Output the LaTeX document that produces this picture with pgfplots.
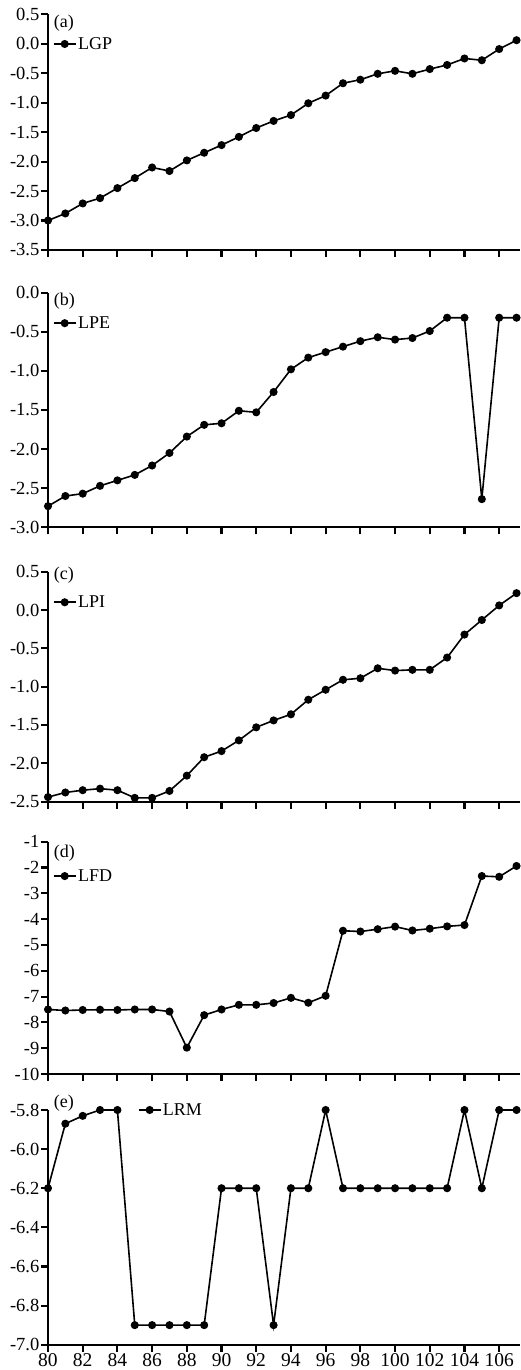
\documentclass[border=0pt]{standalone}
\usepackage{pgfplots}
\pgfplotsset{compat=1.18}
\usepackage{fontspec}
\setmainfont{Liberation Serif}

\pgfplotsset{
  panel/.style={
    scale only axis, width=472pt,
    xmin=80, xmax=107.2,
    axis x line=bottom, axis y line=left,
    axis line style={-, line width=2.1pt},
    tick align=outside, major tick length=7pt,
    every tick/.style={black, line width=2.1pt},
    xtick={80,82,...,106},
    xticklabels={},
    tick label style={font=\fontsize{18.5}{20}\selectfont},
    yticklabel style={inner sep=1.5pt, /pgf/number format/.cd, fixed, fixed zerofill, precision=1, assume math mode=true},
    xticklabel style={inner sep=2pt, font=\fontsize{19.5}{21}\selectfont, /pgf/number format/assume math mode=true},
    clip=false,
    legend style={draw=none, fill=none, inner sep=0pt, anchor=west,
      font=\fontsize{18}{20}\selectfont, nodes={inner sep=1.5pt}},
    legend image code/.code={\draw[mark repeat=2,mark phase=2] plot coordinates {(0pt,0pt) (11pt,0pt) (22pt,0pt)};},
  },
  ser/.style={black, line width=1.6pt, mark=*, mark size=3.2pt, mark options={solid, fill=black}},
}
\newcommand{\plabel}[2]{\node[anchor=west, inner sep=0pt, font=\fontsize{18}{20}\selectfont] at (rel axis cs:0.012,#1) {#2};}

\begin{document}
\begin{tikzpicture}
\path[use as bounding box] (0pt,0pt) rectangle (521pt,1370pt);

% (a) LGP
\begin{axis}[panel, at={(48pt,1120pt)}, anchor=south west, height=235.7pt,
  ymin=-3.5, ymax=0.5, ytick={-3.5,-3,-2.5,-2,-1.5,-1,-0.5,0,0.5},
  legend style={at={(rel axis cs:0.01,0.874)}}]
\addplot[ser] coordinates {
(80,-3.00) (81,-2.88) (82,-2.71) (83,-2.62) (84,-2.45) (85,-2.28) (86,-2.10)
(87,-2.16) (88,-1.98) (89,-1.85) (90,-1.72) (91,-1.58) (92,-1.43) (93,-1.31)
(94,-1.21) (95,-1.01) (96,-0.88) (97,-0.67) (98,-0.61) (99,-0.51) (100,-0.46)
(101,-0.51) (102,-0.43) (103,-0.36) (104,-0.25) (105,-0.28) (106,-0.09) (107,0.06)};
\addlegendentry{LGP}
\plabel{0.963}{(a)}
\end{axis}

% (b) LPE
\begin{axis}[panel, at={(48pt,842.7pt)}, anchor=south west, height=234.6pt,
  ymin=-3, ymax=0, ytick={-3,-2.5,-2,-1.5,-1,-0.5,0},
  legend style={at={(rel axis cs:0.01,0.870)}}]
\addplot[ser] coordinates {
(80,-2.73) (81,-2.60) (82,-2.57) (83,-2.47) (84,-2.40) (85,-2.33) (86,-2.21)
(87,-2.05) (88,-1.84) (89,-1.69) (90,-1.67) (91,-1.51) (92,-1.53) (93,-1.27)
(94,-0.98) (95,-0.83) (96,-0.76) (97,-0.69) (98,-0.62) (99,-0.57) (100,-0.60)
(101,-0.58) (102,-0.49) (103,-0.32) (104,-0.32) (105,-2.64) (106,-0.32) (107,-0.32)};
\addlegendentry{LPE}
\plabel{0.962}{(b)}
\end{axis}

% (c) LPI
\begin{axis}[panel, at={(48pt,568.3pt)}, anchor=south west, height=230pt,
  ymin=-2.5, ymax=0.5, ytick={-2.5,-2,-1.5,-1,-0.5,0,0.5},
  legend style={at={(rel axis cs:0.01,0.867)}}]
\addplot[ser] coordinates {
(80,-2.44) (81,-2.38) (82,-2.35) (83,-2.33) (84,-2.35) (85,-2.45) (86,-2.45)
(87,-2.36) (88,-2.16) (89,-1.92) (90,-1.84) (91,-1.70) (92,-1.53) (93,-1.44)
(94,-1.36) (95,-1.17) (96,-1.04) (97,-0.91) (98,-0.89) (99,-0.76) (100,-0.79)
(101,-0.78) (102,-0.78) (103,-0.62) (104,-0.32) (105,-0.13) (106,0.06) (107,0.22)};
\addlegendentry{LPI}
\plabel{0.986}{(c)}
\end{axis}

% (d) LFD
\begin{axis}[panel, at={(48pt,296pt)}, anchor=south west, height=232.3pt,
  ymin=-10, ymax=-1, ytick={-10,-9,...,-1},
  yticklabel style={/pgf/number format/precision=0},
  legend style={at={(rel axis cs:0.01,0.852)}}]
\addplot[ser] coordinates {
(80,-7.50) (81,-7.54) (82,-7.52) (83,-7.51) (84,-7.52) (85,-7.50) (86,-7.50)
(87,-7.58) (88,-8.98) (89,-7.72) (90,-7.50) (91,-7.32) (92,-7.32) (93,-7.25)
(94,-7.05) (95,-7.24) (96,-6.97) (97,-4.45) (98,-4.48) (99,-4.39) (100,-4.29)
(101,-4.44) (102,-4.37) (103,-4.28) (104,-4.23) (105,-2.33) (106,-2.36) (107,-1.94)};
\addlegendentry{LFD}
\plabel{0.95}{(d)}
\end{axis}

% (e) LRM
\begin{axis}[panel, at={(48pt,25.3pt)}, anchor=south west, height=234.7pt,
  ymin=-7, ymax=-5.8, ytick={-7,-6.8,-6.6,-6.4,-6.2,-6,-5.8},
  xticklabels={80,82,84,86,88,90,92,94,96,98,100,102,104,106},
  legend style={at={(rel axis cs:0.19,1.0)}}]
\addplot[ser] coordinates {
(80,-6.20) (81,-5.87) (82,-5.83) (83,-5.80) (84,-5.80) (85,-6.90) (86,-6.90)
(87,-6.90) (88,-6.90) (89,-6.90) (90,-6.20) (91,-6.20) (92,-6.20) (93,-6.90)
(94,-6.20) (95,-6.20) (96,-5.80) (97,-6.20) (98,-6.20) (99,-6.20) (100,-6.20)
(101,-6.20) (102,-6.20) (103,-6.20) (104,-5.80) (105,-6.20) (106,-5.80) (107,-5.80)};
\addlegendentry{LRM}
\plabel{1.03}{(e)}
\end{axis}
\end{tikzpicture}
\end{document}
